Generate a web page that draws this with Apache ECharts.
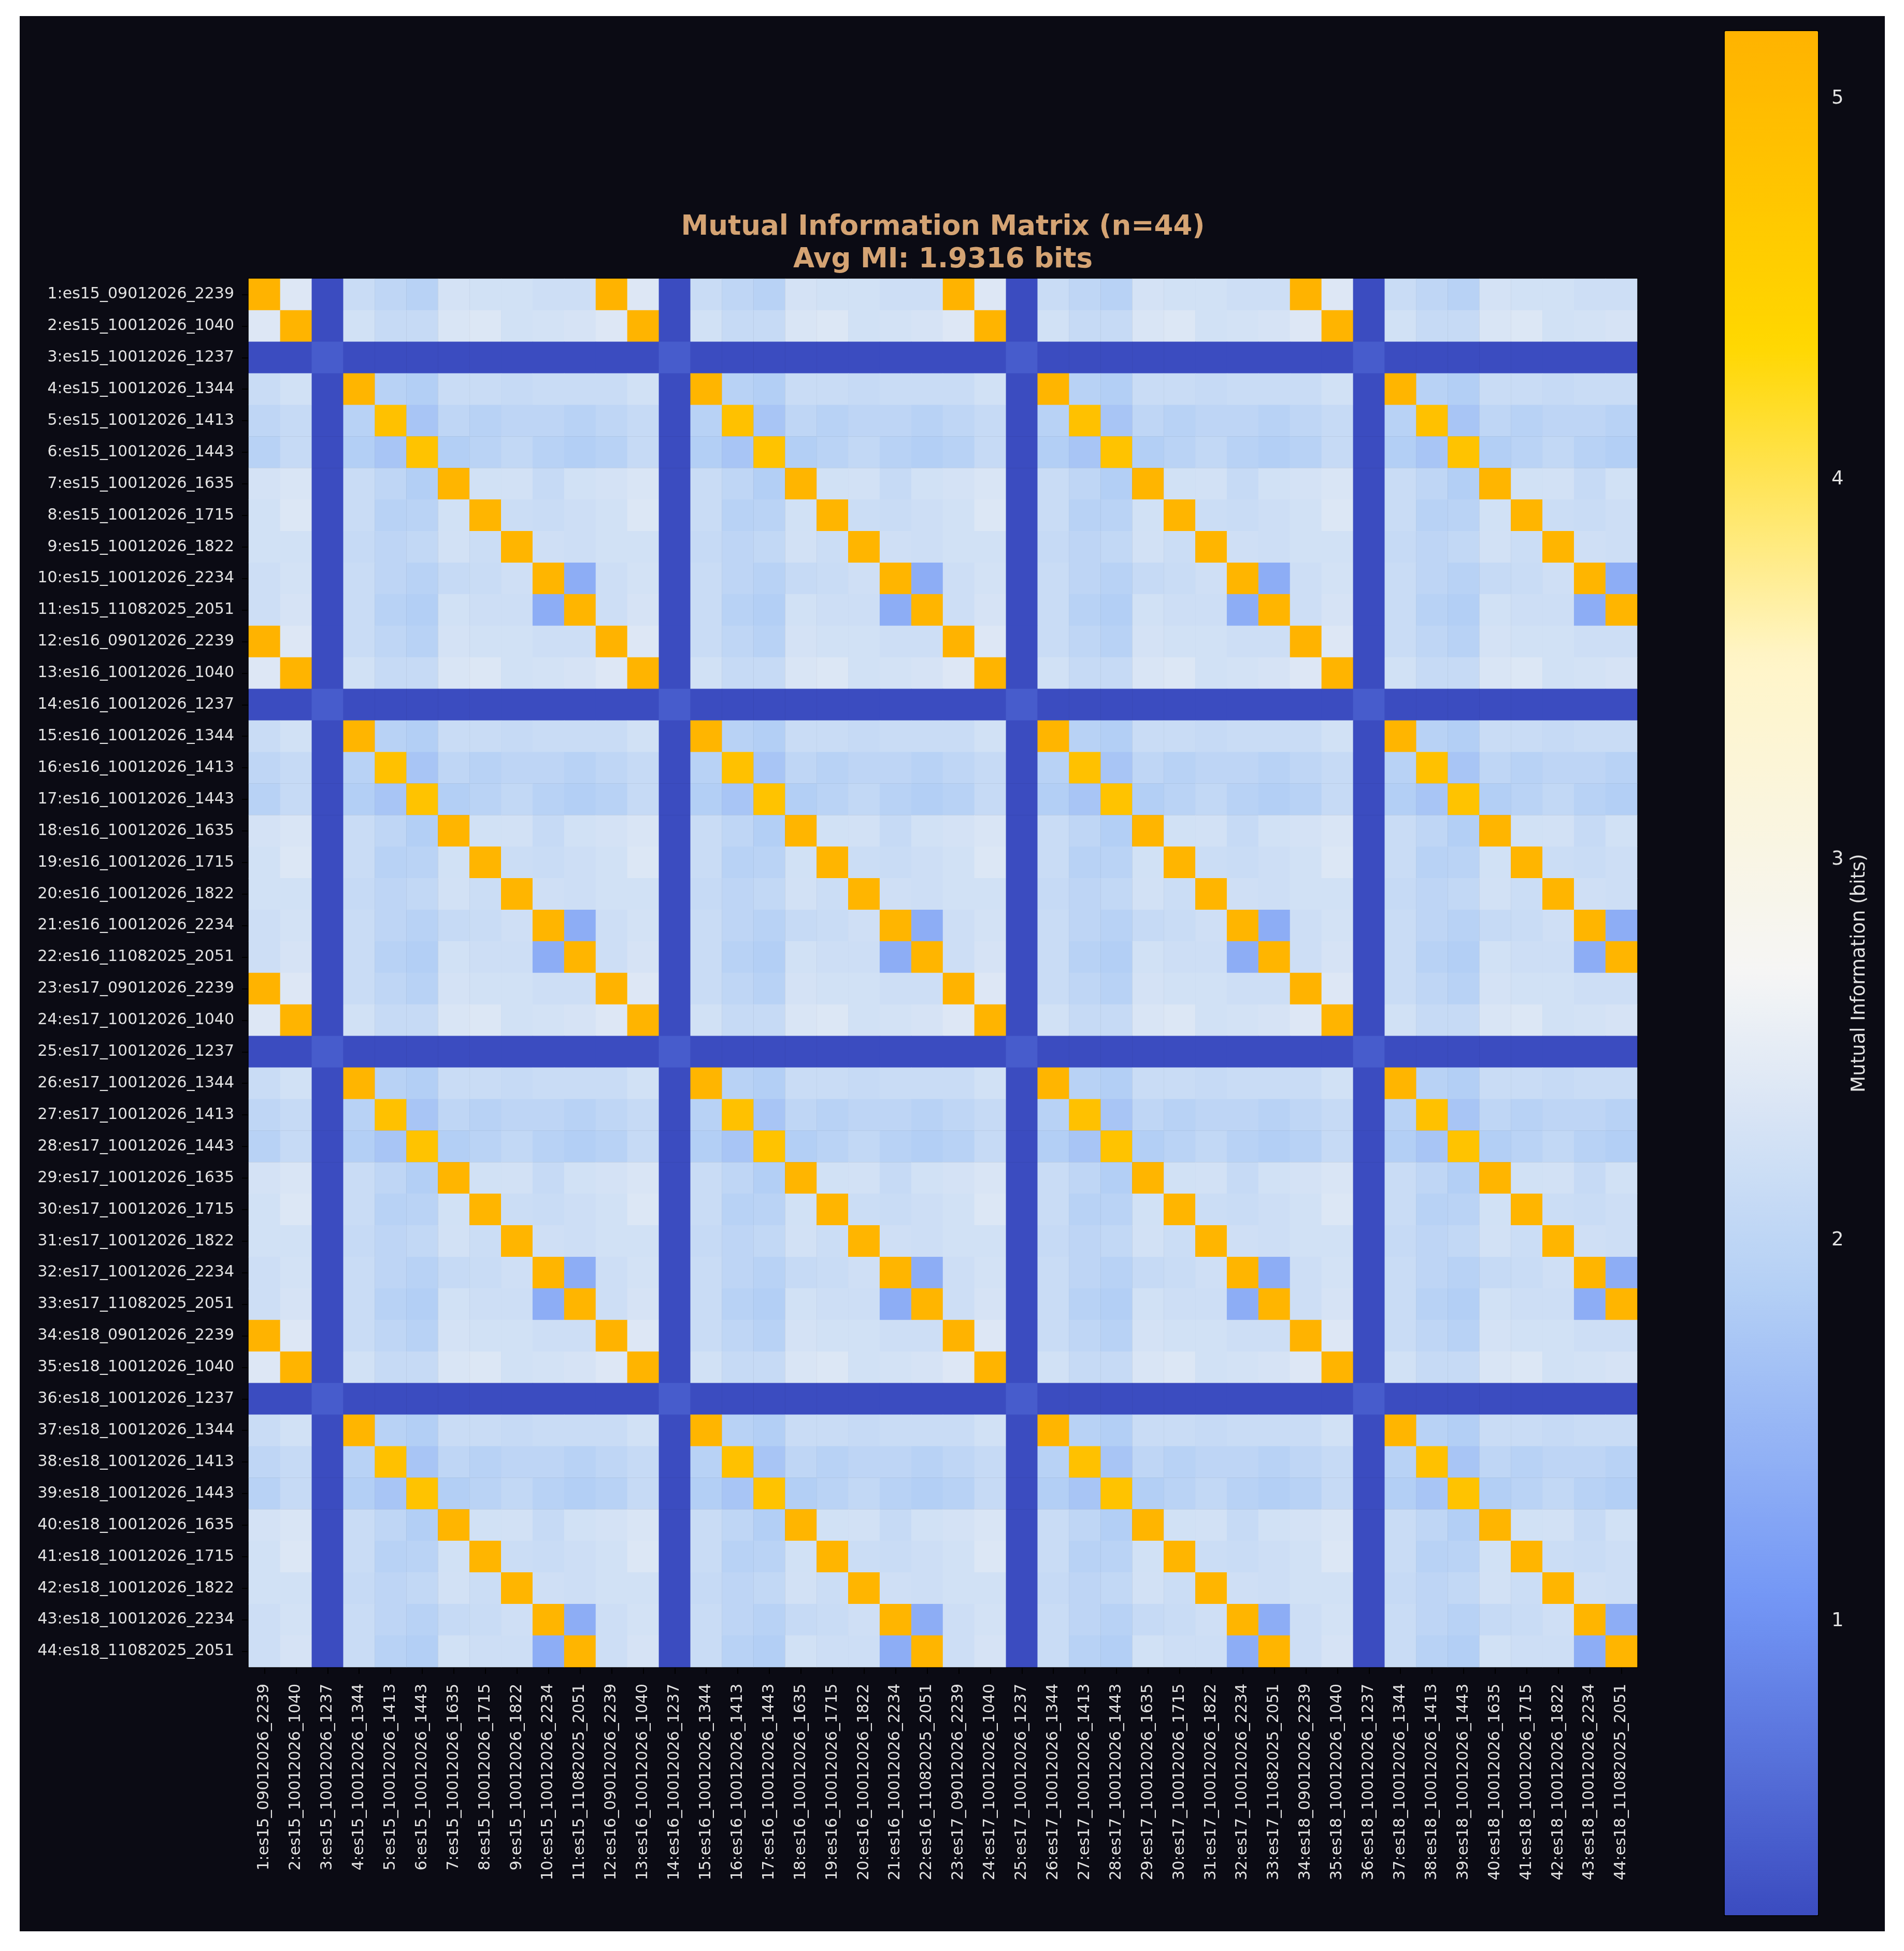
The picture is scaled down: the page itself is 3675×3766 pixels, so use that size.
<!DOCTYPE html>
<html><head><meta charset="utf-8">
<script src="https://cdn.jsdelivr.net/npm/echarts@6/dist/echarts.min.js"></script>
<style>
html,body{margin:0;padding:0;background:#ffffff;}
#chart{position:absolute;left:38px;top:31px;width:3600px;height:3697px;}
</style></head><body><div id="chart"></div>
<script>
// ---- data ----
const experiments = ['es15', 'es16', 'es17', 'es18'];
const sessions = ['09012026_2239', '10012026_1040', '10012026_1237', '10012026_1344', '10012026_1413',
  '10012026_1443', '10012026_1635', '10012026_1715', '10012026_1822', '10012026_2234', '11082025_2051'];
const miBase = [
  [5.18, 2.40, 0.23, 2.15, 2.02, 1.93, 2.28, 2.25, 2.25, 2.19, 2.19],
  [2.40, 5.15, 0.23, 2.25, 2.10, 2.10, 2.35, 2.38, 2.25, 2.27, 2.31],
  [0.23, 0.23, 0.41, 0.23, 0.23, 0.23, 0.23, 0.23, 0.23, 0.23, 0.23],
  [2.15, 2.25, 0.23, 5.12, 1.93, 1.86, 2.15, 2.15, 2.10, 2.15, 2.15],
  [2.02, 2.10, 0.23, 1.93, 4.85, 1.72, 2.02, 1.93, 2.00, 2.00, 1.93],
  [1.93, 2.10, 0.23, 1.86, 1.72, 4.80, 1.86, 1.95, 2.06, 1.93, 1.86],
  [2.28, 2.35, 0.23, 2.15, 2.02, 1.86, 5.12, 2.25, 2.26, 2.10, 2.25],
  [2.25, 2.38, 0.23, 2.15, 1.93, 1.95, 2.25, 5.14, 2.17, 2.15, 2.19],
  [2.25, 2.25, 0.23, 2.10, 2.00, 2.06, 2.26, 2.17, 5.14, 2.22, 2.19],
  [2.19, 2.27, 0.23, 2.15, 2.00, 1.93, 2.10, 2.15, 2.22, 5.12, 1.38],
  [2.19, 2.31, 0.23, 2.15, 1.93, 1.86, 2.25, 2.19, 2.19, 1.38, 5.13]
];
const colorbarTicks = [1, 2, 3, 4, 5];
const valueMin = 0.228;
const valueMax = 5.177;
const titleLine1 = 'Mutual Information Matrix (n=44)';
const titleLine2 = 'Avg MI: 1.9316 bits';
const colorbarName = 'Mutual Information (bits)';
const paletteStops = ['#3b4cc0', '#7396f5', '#b4d0f5', '#f5f5f5', '#fff5c8', '#ffd700', '#ffb300'];

// ---- build ----
const labels = [];
experiments.forEach(e => sessions.forEach(s => labels.push((labels.length + 1) + ':' + e + '_' + s)));
const n = labels.length;
const k = sessions.length;
const cells = [];
for (let i = 0; i < n; i++) {
  for (let j = 0; j < n; j++) {
    cells.push([j, i, miBase[i % k][j % k]]);
  }
}

const FONT = 'DejaVu Sans';
const LABEL_COLOR = '#e2e2e2';
const chart = echarts.init(document.getElementById('chart'), null, {renderer: 'canvas'});
chart.setOption({
  backgroundColor: '#0b0b14',
  animation: false,
  textStyle: {fontFamily: FONT},
  title: [
    {text: titleLine1, left: 1782, top: 382, padding: 0, textAlign: 'center',
     textStyle: {color: '#d4a373', fontSize: 53, fontWeight: 'bold', fontFamily: FONT, lineHeight: 53}},
    {text: titleLine2, left: 1782, top: 445, padding: 0, textAlign: 'center',
     textStyle: {color: '#d4a373', fontSize: 53, fontWeight: 'bold', fontFamily: FONT, lineHeight: 53}}
  ],
  grid: [
    {left: 442, top: 507, width: 2680, height: 2680, show: true, borderColor: '#000', borderWidth: 3, backgroundColor: 'transparent', containLabel: false},
    {left: 3291, top: 29, width: 180, height: 3637, show: true, borderColor: '#000', borderWidth: 3, backgroundColor: 'transparent', containLabel: false}
  ],
  xAxis: [
    {type: 'category', gridIndex: 0, data: labels, position: 'bottom',
     axisLine: {show: false},
     axisTick: {show: true, alignWithLabel: true, length: 13, lineStyle: {color: '#000', width: 2}},
     axisLabel: {interval: 0, rotate: 90, fontSize: 30, color: LABEL_COLOR, margin: 32, fontFamily: FONT},
     splitLine: {show: false}},
    {type: 'value', gridIndex: 1, show: false, min: 0, max: 1}
  ],
  yAxis: [
    {type: 'category', gridIndex: 0, data: labels, inverse: true,
     axisLine: {show: false},
     axisTick: {show: true, alignWithLabel: true, length: 13, lineStyle: {color: '#000', width: 2}},
     axisLabel: {interval: 0, fontSize: 30, color: LABEL_COLOR, margin: 28, fontFamily: FONT},
     splitLine: {show: false}},
    {type: 'value', gridIndex: 1, position: 'right', min: valueMin, max: valueMax,
     axisLine: {show: false},
     axisTick: {show: true, length: 13, lineStyle: {color: LABEL_COLOR, width: 2}, customValues: colorbarTicks},
     axisLabel: {fontSize: 37, color: LABEL_COLOR, margin: 26, fontFamily: FONT, customValues: colorbarTicks},
     splitLine: {show: false},
     name: colorbarName, nameLocation: 'middle', nameRotate: 90, nameGap: 62,
     nameTextStyle: {fontSize: 37, color: LABEL_COLOR, fontFamily: FONT}}
  ],
  visualMap: {
    type: 'continuous', seriesIndex: 0, min: valueMin, max: valueMax,
    calculable: false, hoverLink: false, orient: 'vertical',
    left: 3291, top: 29, itemWidth: 180, itemHeight: 3637, padding: 0, text: null,
    inRange: {color: paletteStops}
  },
  series: [{
    type: 'heatmap', xAxisIndex: 0, yAxisIndex: 0, data: cells,
    progressive: 0, itemStyle: {borderWidth: 0},
    emphasis: {disabled: true}
  }]
});
</script></body></html>
